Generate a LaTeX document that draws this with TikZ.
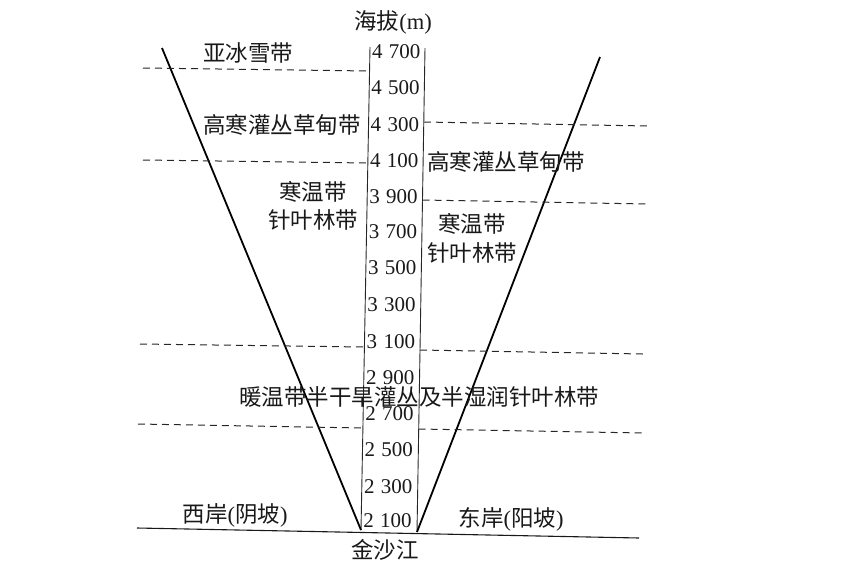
\documentclass[tikz,border=0pt]{standalone}
\usepackage{fontspec}
\setmainfont{Liberation Serif}
\newfontfamily\cjk{Noto Sans CJK SC}
\begin{document}
\begin{tikzpicture}[x=1pt,y=-1pt,
  lbl/.style={inner sep=0pt,text=black!90,font=\fontsize{22.5}{26}\selectfont\cjk},
  tick/.style={inner sep=0pt,anchor=west,text=black!90,font=\fontsize{21}{24}\selectfont},
  slope/.style={line width=1.8pt,black},
  axisline/.style={line width=0.9pt,black!85},
  zone/.style={line width=1pt,black!85,dash pattern=on 7pt off 5pt},
  ground/.style={line width=1.1pt,black!90}]
\useasboundingbox (0,0) rectangle (852,574);
% axis column
\coordinate (aL1) at (370,47); \coordinate (aL2) at (361,530);
\coordinate (aR1) at (425,48); \coordinate (aR2) at (417,532);
\draw[axisline] (aL1) -- (aL2);
\draw[axisline] (aR1) -- (aR2);
% ground
\coordinate (g1) at (137,528); \coordinate (g2) at (639,538);
\draw[ground] (g1) -- (g2);
% valley slopes
\coordinate (vL1) at (162,48); \coordinate (vL2) at (361,530);
\coordinate (vR1) at (417,532); \coordinate (vR2) at (600,57);
\draw[slope] (vL1) -- (vL2);
\draw[slope] (vR1) -- (vR2);
% zone boundaries, west side
\coordinate (wa1) at (143,68);  \coordinate (wa2) at (369.5,71);
\coordinate (wb1) at (143,160); \coordinate (wb2) at (367.8,163);
\coordinate (wc1) at (140,344); \coordinate (wc2) at (364.4,347);
\coordinate (wd1) at (138,424); \coordinate (wd2) at (362.9,428);
\draw[zone] (wa1) -- (wa2);
\draw[zone] (wb1) -- (wb2);
\draw[zone] (wc1) -- (wc2);
\draw[zone] (wd1) -- (wd2);
% zone boundaries, east side
\coordinate (ea1) at (423.8,122); \coordinate (ea2) at (648,126);
\coordinate (eb1) at (422.5,200); \coordinate (eb2) at (647,204);
\coordinate (ec1) at (420,350);   \coordinate (ec2) at (643,354);
\coordinate (ed1) at (418.7,429); \coordinate (ed2) at (643,433);
\draw[zone] (ea1) -- (ea2);
\draw[zone] (eb1) -- (eb2);
\draw[zone] (ec1) -- (ec2);
\draw[zone] (ed1) -- (ed2);
% altitude ticks
\foreach \a/\b/\y in {4/700/52,4/500/88,4/300/125,4/100/161,3/900/197,3/700/232,3/500/268,3/300/305,3/100/342,2/900/378,2/700/414,2/500/450,2/300/487,2/100/521}
  \node[tick,name=t\a\b] at ({372-9*(\y-47)/483},\y) {\a\hspace{0.3em}\b};
% labels
\node[lbl] (title) at (393,22) {海拔\fontspec{Liberation Serif}(m)};
\node[lbl] (z1) at (248,53) {亚冰雪带};
\node[lbl] (z2w) at (282,125) {高寒灌丛草甸带};
\node[lbl] (z2e) at (506,162) {高寒灌丛草甸带};
\node[lbl] (z3wa) at (313,192) {寒温带};
\node[lbl] (z3wb) at (313,220) {针叶林带};
\node[lbl] (z3ea) at (472,224) {寒温带};
\node[lbl] (z3eb) at (472,253) {针叶林带};
\node[lbl] (z4) at (419,397) {暖温带半干旱灌丛及半湿润针叶林带};
\node[lbl] (west) at (235,515) {西岸{\fontspec{Liberation Serif}(}阴坡{\fontspec{Liberation Serif})}};
\node[lbl] (east) at (511,519) {东岸{\fontspec{Liberation Serif}(}阳坡{\fontspec{Liberation Serif})}};
\node[lbl] (river) at (385,550) {金沙江};
\end{tikzpicture}
\end{document}
